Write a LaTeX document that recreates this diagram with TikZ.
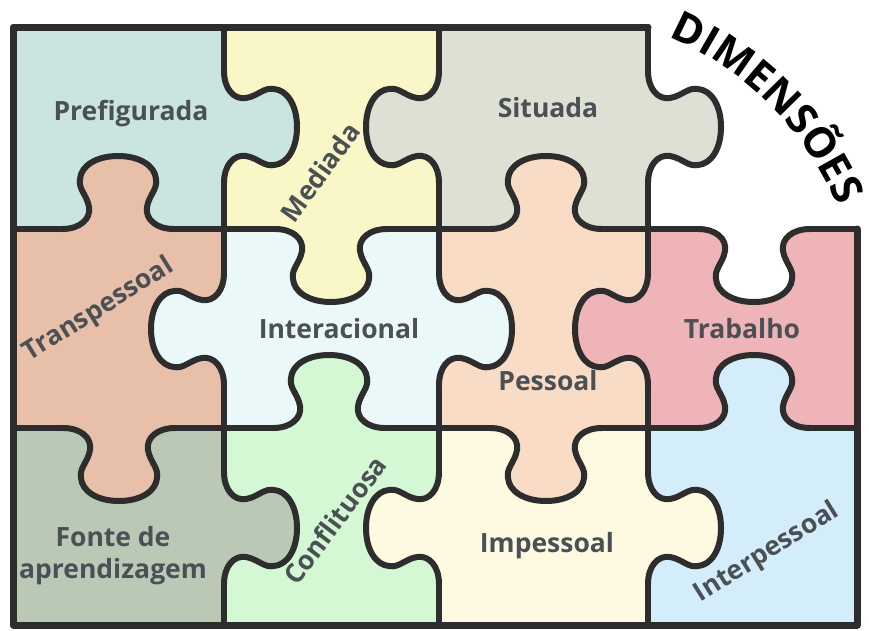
\documentclass[tikz,border=0pt]{standalone}
\usepackage{fontspec}
\setmainfont{Open Sans}
\usetikzlibrary{decorations.text}
\definecolor{cPre}{RGB}{202,229,223}
\definecolor{cMed}{RGB}{249,246,200}
\definecolor{cSit}{RGB}{221,224,211}
\definecolor{cTra}{RGB}{232,191,168}
\definecolor{cInt}{RGB}{234,248,250}
\definecolor{cPes}{RGB}{248,220,198}
\definecolor{cTrab}{RGB}{238,180,183}
\definecolor{cFon}{RGB}{186,200,182}
\definecolor{cCon}{RGB}{211,248,211}
\definecolor{cImp}{RGB}{254,250,225}
\definecolor{cIntp}{RGB}{211,238,250}
\definecolor{lineC}{RGB}{45,45,45}
\definecolor{lblC}{RGB}{75,80,85}
\newcommand\dimsfont{\bfseries\fontsize{42}{42}\selectfont}
\tikzset{
  edgeline/.style={draw=lineC, line width=6pt, line cap=round, line join=round},
  lbl/.style={font=\bfseries\fontsize{26.5}{32}\selectfont, text=lblC, inner sep=0pt, align=center},
  pics/pzknob/.style={code={
    \fill[#1] (-56,-4) -- (-56,0) .. controls (-38,0) and (-27,10) .. (-29,22)
      .. controls (-31,34) and (-40,40) .. (-38,50)
      .. controls (-37,63) and (-22,73) .. (0,73)
      .. controls (22,73) and (37,63) .. (38,50)
      .. controls (40,40) and (31,34) .. (29,22)
      .. controls (27,10) and (38,0) .. (56,0) -- (56,-4) -- cycle;
    \draw[edgeline] (-56,0) .. controls (-38,0) and (-27,10) .. (-29,22)
      .. controls (-31,34) and (-40,40) .. (-38,50)
      .. controls (-37,63) and (-22,73) .. (0,73)
      .. controls (22,73) and (37,63) .. (38,50)
      .. controls (40,40) and (31,34) .. (29,22)
      .. controls (27,10) and (38,0) .. (56,0);
  }}
}
\begin{document}
\begin{tikzpicture}[x=1pt,y=-1pt]
\useasboundingbox (0,0) rectangle (869,630);
\fill[white] (0,0) rectangle (869,630);
% cells
\fill[cPre] (13,27) rectangle (224,229);
\fill[cMed] (224,27) rectangle (439,229);
\fill[cSit] (439,27) rectangle (648,229);
\fill[cTra] (13,229) rectangle (224,428);
\fill[cInt] (224,229) rectangle (439,428);
\fill[cPes] (439,229) rectangle (648,428);
\fill[cTrab] (648,229) rectangle (857,428);
\fill[cFon] (13,428) rectangle (224,625);
\fill[cCon] (224,428) rectangle (439,625);
\fill[cImp] (439,428) rectangle (648,625);
\fill[cIntp] (648,428) rectangle (857,625);
% straight grid lines
\draw[edgeline] (13,229) -- (857,229);
\draw[edgeline] (13,428) -- (857,428);
\draw[edgeline] (224,27) -- (224,625);
\draw[edgeline] (439,27) -- (439,625);
\draw[edgeline] (648,27) -- (648,625);
% knobs on row boundary 1
\pic[rotate=180] at (118,229) {pzknob=cTra};
\pic at (331,229) {pzknob=cMed};
\pic[rotate=180] at (546,229) {pzknob=cPes};
\pic at (754,229) {pzknob=white};
% knobs on row boundary 2
\pic at (119,428) {pzknob=cTra};
\pic[rotate=180] at (329,428) {pzknob=cCon};
\pic at (546,428) {pzknob=cPes};
\pic[rotate=180] at (754,428) {pzknob=cIntp};
% knobs on column boundary 1
\pic[rotate=90] at (224,127) {pzknob=cPre};
\pic[rotate=-90] at (224,329) {pzknob=cInt};
\pic[rotate=90] at (224,528) {pzknob=cFon};
% column boundary 2
\pic[rotate=-90] at (439,127) {pzknob=cSit};
\pic[rotate=90] at (439,329) {pzknob=cInt};
\pic[rotate=-90] at (439,528) {pzknob=cImp};
% column boundary 3
\pic[rotate=90] at (648,127) {pzknob=cSit};
\pic[rotate=-90] at (648,329) {pzknob=cTrab};
\pic[rotate=90] at (648,528) {pzknob=cImp};
% outer frame
\draw[edgeline, line width=7pt] (648,27) -- (13,27) -- (13,625) -- (857,625) -- (857,229);
% labels
\node[lbl] (pre) at (131,114) {Prefigurada};
\node[lbl, rotate=54] (med) at (320,172) {Mediada};
\node[lbl] (sit) at (548,108) {Situada};
\node[lbl, rotate=32] (tra) at (99,310) {Transpessoal};
\node[lbl] (int) at (339,329) {Interacional};
\node[lbl] (pes) at (548,381) {Pessoal};
\node[lbl] (trab) at (742,329) {Trabalho};
\node[lbl] (fon) at (113,556) {Fonte de\\aprendizagem};
\node[lbl, rotate=53] (con) at (335,520) {Conflituosa};
\node[lbl] (imp) at (547,546) {Impessoal};
\node[lbl, rotate=32] (intp) at (767,553) {Interpessoal};
% curved title
\path[decorate, decoration={text along path, text align=center, text={|\dimsfont|DIMENSÕES}}]
  ([shift={(76:322pt)}]542,333) arc[start angle=76, end angle=14, radius=322pt];
\end{tikzpicture}
\end{document}
